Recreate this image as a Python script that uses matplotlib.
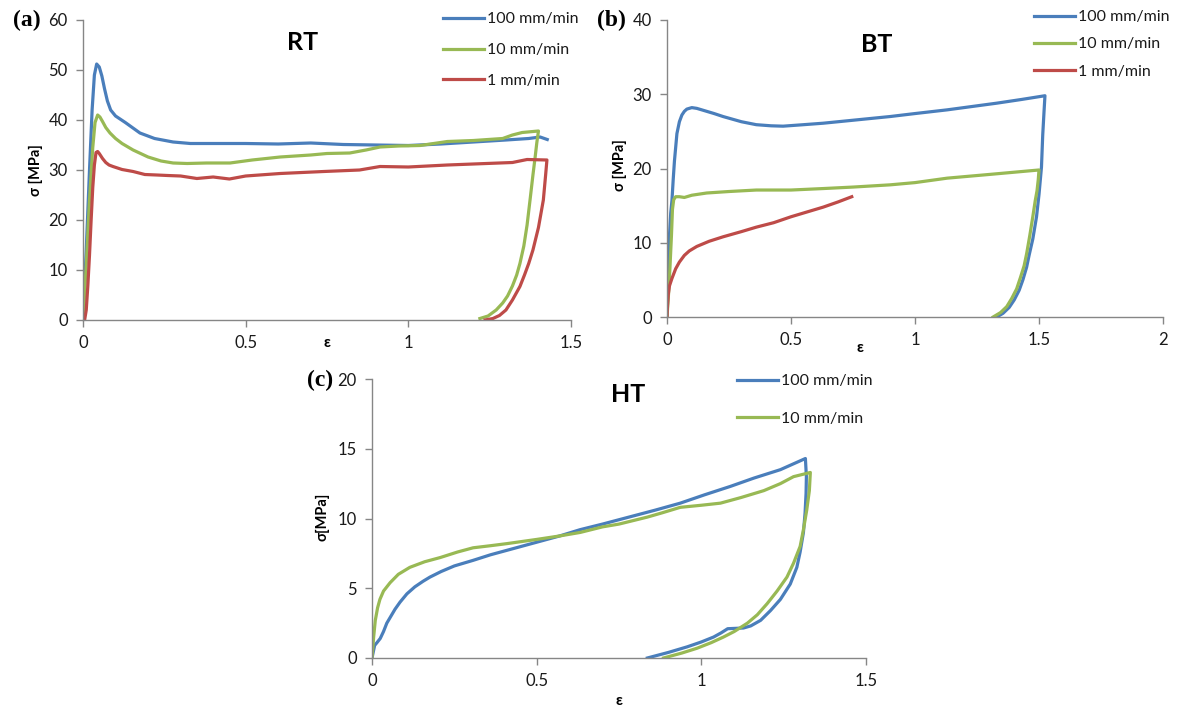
import matplotlib
matplotlib.use("Agg")
import matplotlib.pyplot as plt

# ---------------- data ----------------
# Panel (a) RT
rt_100_eps = [0.0, 0.01, 0.02, 0.028, 0.035, 0.042, 0.05, 0.058, 0.066, 0.075, 0.085, 0.1, 0.13, 0.175, 0.22, 0.277, 0.33, 0.4, 0.5, 0.6, 0.7, 0.8, 0.9, 1.0, 1.1, 1.2, 1.3, 1.37, 1.405, 1.427]
rt_100_sig = [0.0, 14.0, 30.0, 42.0, 49.0, 51.2, 50.6, 48.8, 46.3, 43.8, 42.0, 40.8, 39.5, 37.4, 36.3, 35.6, 35.3, 35.3, 35.3, 35.2, 35.4, 35.1, 35.0, 34.9, 35.2, 35.6, 36.0, 36.3, 36.6, 36.1]

rt_10_eps = [0.0, 0.01, 0.02, 0.03, 0.037, 0.045, 0.052, 0.06, 0.07, 0.083, 0.1, 0.12, 0.154, 0.2, 0.24, 0.277, 0.32, 0.38, 0.452, 0.52, 0.606, 0.7, 0.75, 0.82, 0.87, 0.913, 0.97, 1.036, 1.12, 1.2, 1.29, 1.32, 1.35, 1.40,
             1.395, 1.39, 1.383, 1.375, 1.365, 1.355, 1.343, 1.333, 1.32, 1.305, 1.29, 1.27, 1.245, 1.22]
rt_10_sig = [0.0, 11.0, 24.0, 34.5, 39.5, 41.0, 40.6, 39.7, 38.5, 37.4, 36.3, 35.3, 34.0, 32.6, 31.8, 31.4, 31.3, 31.4, 31.4, 32.0, 32.6, 33.0, 33.3, 33.4, 34.0, 34.6, 34.8, 34.9, 35.7, 35.9, 36.3, 37.0, 37.5, 37.8,
             35.5, 32.7, 29.0, 24.5, 19.0, 14.8, 11.3, 9.0, 6.8, 4.8, 3.4, 2.0, 0.8, 0.3]

rt_1_eps = [0.005, 0.01, 0.015, 0.02, 0.025, 0.03, 0.035, 0.04, 0.045, 0.05, 0.06, 0.07, 0.08, 0.092, 0.12, 0.154, 0.19, 0.227, 0.26, 0.3, 0.35, 0.4, 0.45, 0.5, 0.606, 0.74, 0.85, 0.913, 1.0, 1.12, 1.24, 1.32, 1.365, 1.426,
            1.422, 1.415, 1.40, 1.383, 1.37, 1.357, 1.343, 1.32, 1.30, 1.28, 1.26, 1.236]
rt_1_sig = [0.0, 2.0, 7.0, 13.0, 20.0, 26.5, 31.0, 33.5, 33.7, 33.3, 32.3, 31.5, 31.0, 30.7, 30.1, 29.7, 29.1, 29.0, 28.9, 28.8, 28.3, 28.6, 28.2, 28.8, 29.3, 29.7, 30.0, 30.7, 30.6, 31.0, 31.3, 31.5, 32.1, 32.0,
            29.0, 24.0, 18.5, 14.0, 11.3, 9.0, 6.7, 4.0, 2.0, 0.9, 0.3, 0.0]

# Panel (b) BT
bt_100_eps = [0.0, 0.005, 0.01, 0.015, 0.02, 0.025, 0.03, 0.04, 0.05, 0.06, 0.07, 0.08, 0.1, 0.12, 0.15, 0.19, 0.226, 0.3, 0.36, 0.42, 0.468, 0.55, 0.63, 0.75, 0.9, 1.0, 1.13, 1.33, 1.43, 1.524,
              1.52, 1.515, 1.51, 1.50, 1.49, 1.475, 1.46, 1.45, 1.435, 1.42, 1.40, 1.38, 1.355, 1.33]
bt_100_sig = [0.0, 6.0, 11.0, 14.0, 15.7, 18.5, 21.0, 24.7, 26.3, 27.2, 27.7, 28.0, 28.2, 28.1, 27.8, 27.4, 27.0, 26.3, 25.9, 25.75, 25.7, 25.9, 26.1, 26.5, 27.0, 27.4, 27.9, 28.8, 29.3, 29.8,
              27.5, 24.5, 20.2, 16.5, 13.5, 10.5, 8.3, 6.7, 5.0, 3.6, 2.3, 1.3, 0.5, 0.0]

bt_10_eps = [0.0, 0.006, 0.012, 0.018, 0.022, 0.027, 0.035, 0.05, 0.07, 0.1, 0.16, 0.25, 0.36, 0.5, 0.63, 0.75, 0.9, 1.0, 1.13, 1.3, 1.5,
             1.497, 1.492, 1.485, 1.475, 1.463, 1.45, 1.44, 1.425, 1.41, 1.39, 1.37, 1.345, 1.315]
bt_10_sig = [0.0, 3.0, 6.7, 11.0, 14.5, 15.8, 16.2, 16.2, 16.1, 16.4, 16.7, 16.9, 17.1, 17.1, 17.3, 17.5, 17.8, 18.1, 18.7, 19.2, 19.8,
             18.5, 17.0, 15.7, 13.5, 11.0, 8.5, 6.9, 5.3, 3.8, 2.5, 1.4, 0.6, 0.0]

bt_1_eps = [0.0, 0.002, 0.005, 0.01, 0.02, 0.035, 0.05, 0.07, 0.09, 0.12, 0.17, 0.226, 0.3, 0.36, 0.43, 0.5, 0.57, 0.63, 0.69, 0.745]
bt_1_sig = [0.0, 1.5, 3.0, 4.2, 5.2, 6.5, 7.4, 8.3, 8.9, 9.5, 10.2, 10.8, 11.5, 12.1, 12.7, 13.5, 14.2, 14.8, 15.5, 16.2]

# Panel (c) HT
ht_100_eps = [0.0, 0.008, 0.015, 0.025, 0.035, 0.045, 0.055, 0.07, 0.085, 0.106, 0.13, 0.155, 0.176, 0.21, 0.25, 0.307, 0.36, 0.43, 0.5, 0.57, 0.632, 0.7, 0.78, 0.86, 0.936, 1.01, 1.088, 1.16, 1.24, 1.316,
              1.319, 1.318, 1.315, 1.31, 1.30, 1.29, 1.27, 1.24, 1.21, 1.18, 1.15, 1.128, 1.08, 1.06, 1.037, 1.0, 0.957, 0.9, 0.836]
ht_100_sig = [0.0, 0.9, 1.1, 1.4, 1.9, 2.5, 2.9, 3.5, 4.0, 4.6, 5.1, 5.5, 5.8, 6.2, 6.6, 7.0, 7.4, 7.85, 8.3, 8.75, 9.2, 9.6, 10.1, 10.6, 11.1, 11.7, 12.3, 12.9, 13.5, 14.3,
              13.0, 11.8, 10.4, 9.0, 7.6, 6.5, 5.3, 4.2, 3.4, 2.7, 2.3, 2.15, 2.1, 1.8, 1.5, 1.15, 0.8, 0.4, 0.0]

ht_10_eps = [0.0, 0.005, 0.01, 0.017, 0.024, 0.035, 0.055, 0.08, 0.115, 0.16, 0.207, 0.26, 0.307, 0.36, 0.41, 0.5, 0.57, 0.632, 0.7, 0.75, 0.836, 0.88, 0.936, 1.0, 1.058, 1.12, 1.19, 1.24, 1.28, 1.331,
             1.328, 1.32, 1.31, 1.30, 1.28, 1.26, 1.23, 1.20, 1.17, 1.14, 1.10, 1.067, 1.03, 0.987, 0.94, 0.885]
ht_10_sig = [0.0, 1.5, 2.7, 3.6, 4.2, 4.8, 5.4, 6.0, 6.5, 6.9, 7.2, 7.6, 7.9, 8.05, 8.2, 8.5, 8.75, 9.0, 9.4, 9.6, 10.1, 10.4, 10.8, 10.95, 11.1, 11.5, 12.0, 12.5, 13.0, 13.3,
             12.0, 10.6, 9.2, 8.0, 6.8, 5.8, 4.8, 3.9, 3.1, 2.5, 1.9, 1.5, 1.1, 0.7, 0.35, 0.0]

labels = ["100 mm/min", "10 mm/min", "1 mm/min"]
x_ticks_a = [0, 0.5, 1, 1.5]
x_ticks_b = [0, 0.5, 1, 1.5, 2]
x_ticks_c = [0, 0.5, 1, 1.5]
y_ticks_a = [0, 10, 20, 30, 40, 50, 60]
y_ticks_b = [0, 10, 20, 30, 40]
y_ticks_c = [0, 5, 10, 15, 20]

# ---------------- style ----------------
BLUE = "#4A7EBB"
GREEN = "#98B954"
RED = "#BE4B48"
AXC = "#868686"
TXT = "#1a1a1a"
FONT = "Lato"
LW = 2.3

fig = plt.figure(figsize=(11.78, 7.13), dpi=100)
W, H = 1178.0, 713.0


def px_axes(l, r, b, t):
    return fig.add_axes([l / W, 1 - b / H, (r - l) / W, (b - t) / H])


def style(ax, xt, yt, xlim, ylim):
    ax.set_xlim(*xlim)
    ax.set_ylim(*ylim)
    ax.set_xticks(xt)
    ax.set_xticklabels([("%g" % v) for v in xt])
    ax.set_yticks(yt)
    ax.set_yticklabels([("%g" % v) for v in yt])
    for s in ["top", "right"]:
        ax.spines[s].set_visible(False)
    for s in ["left", "bottom"]:
        ax.spines[s].set_color(AXC)
        ax.spines[s].set_linewidth(1.0)
    ax.tick_params(direction="out", length=5, width=1.0, color=AXC,
                   labelsize=12, labelcolor=TXT, pad=6)
    for lab in ax.get_xticklabels() + ax.get_yticklabels():
        lab.set_family(FONT)
    ax.patch.set_alpha(0)


def legend(ax, handles, labs, x, y, spacing):
    leg = ax.legend(handles, labs, loc="upper left",
                    bbox_to_anchor=(x / W, 1 - y / H), bbox_transform=fig.transFigure,
                    frameon=False, borderpad=0, borderaxespad=0,
                    handlelength=2.55, handletextpad=0.2, labelspacing=spacing,
                    prop={"family": FONT, "size": 11.5})
    for t in leg.get_texts():
        t.set_color(TXT)
    return leg


# (a) RT
axa = px_axes(83, 571, 320, 20)
h1, = axa.plot(rt_100_eps, rt_100_sig, color=BLUE, lw=LW, solid_joinstyle="round")
h2, = axa.plot(rt_10_eps, rt_10_sig, color=GREEN, lw=LW, solid_joinstyle="round")
h3, = axa.plot(rt_1_eps, rt_1_sig, color=RED, lw=LW, solid_joinstyle="round")
style(axa, x_ticks_a, y_ticks_a, (0, 1.5), (0, 60))
legend(axa, [h1, h2, h3], labels, 443, 12, 1.05)

# (b) BT
axb = px_axes(667, 1163, 317, 20)
g1, = axb.plot(bt_100_eps, bt_100_sig, color=BLUE, lw=LW, solid_joinstyle="round")
g2, = axb.plot(bt_10_eps, bt_10_sig, color=GREEN, lw=LW, solid_joinstyle="round")
g3, = axb.plot(bt_1_eps, bt_1_sig, color=RED, lw=LW, solid_joinstyle="round")
style(axb, x_ticks_b, y_ticks_b, (0, 2), (0, 40))
legend(axb, [g1, g2, g3], labels, 1034, 10, 0.82)

# (c) HT
axc = px_axes(372, 866, 658, 379)
k1, = axc.plot(ht_100_eps, ht_100_sig, color=BLUE, lw=LW, solid_joinstyle="round")
k2, = axc.plot(ht_10_eps, ht_10_sig, color=GREEN, lw=LW, solid_joinstyle="round")
style(axc, x_ticks_c, y_ticks_c, (0, 1.5), (0, 20))
legend(axc, [k1, k2], labels[:2], 737, 374, 1.45)


def ftext(x, y, s, **kw):
    fig.text(x / W, 1 - y / H, s, **kw)


# titles
ftext(303, 42, "RT", ha="center", va="center", family=FONT, fontsize=18, fontweight="bold", color="black")
ftext(877, 45, "BT", ha="center", va="center", family=FONT, fontsize=18, fontweight="bold", color="black")
ftext(628, 395, "HT", ha="center", va="center", family=FONT, fontsize=18, fontweight="bold", color="black")

# panel labels
ftext(27, 20, "(a)", ha="center", va="center", family="Liberation Serif", fontsize=17, fontweight="bold")
ftext(611, 20, "(b)", ha="center", va="center", family="Liberation Serif", fontsize=17, fontweight="bold")
ftext(320, 380, "(c)", ha="center", va="center", family="Liberation Serif", fontsize=17, fontweight="bold")

# axis labels
ftext(36, 170, "σ [MPa]", ha="center", va="center", rotation=90, family=FONT, fontsize=10.5, fontweight="bold")
ftext(620, 165, "σ [MPa]", ha="center", va="center", rotation=90, family=FONT, fontsize=10.5, fontweight="bold")
ftext(322, 517, "σ[MPa]", ha="center", va="center", rotation=90, family=FONT, fontsize=10.5, fontweight="bold")
ftext(327, 343, "ε", ha="center", va="center", family=FONT, fontsize=11, fontweight="bold")
ftext(860, 348, "ε", ha="center", va="center", family=FONT, fontsize=11, fontweight="bold")
ftext(619, 701, "ε", ha="center", va="center", family=FONT, fontsize=11, fontweight="bold")

fig.savefig("out.png", dpi=100)
